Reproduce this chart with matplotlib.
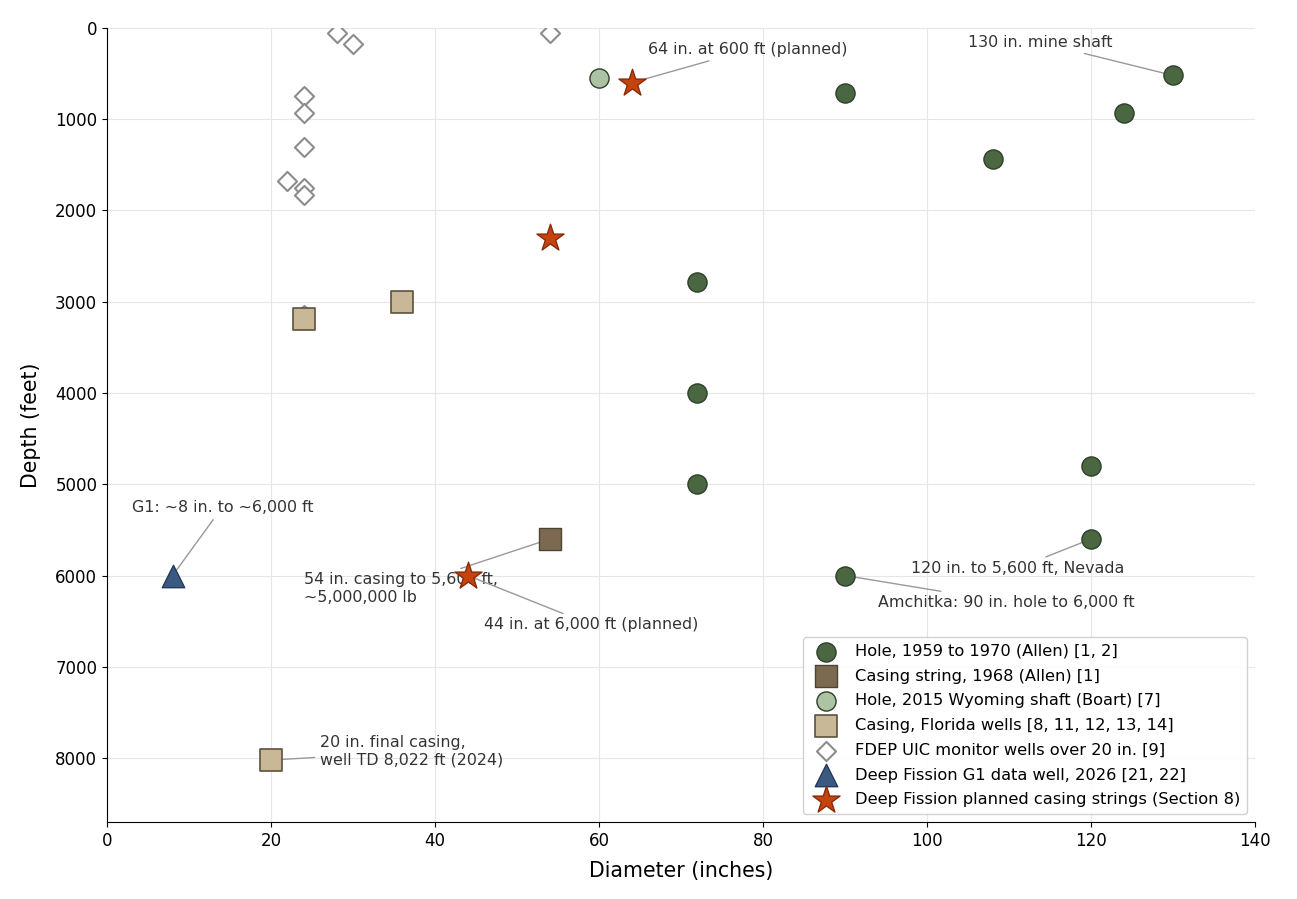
import matplotlib.pyplot as plt

# Holes drilled 1959-1970 (Allen)
hole_x = [90, 130, 124, 108, 72, 72, 72, 120, 120, 90]
hole_y = [710, 520, 930, 1440, 2780, 4000, 5000, 4800, 5600, 6000]

# Casing string 1968 (Allen)
casing_x = [54]
casing_y = [5600]

# Wyoming shaft 2015
wy_x = [60]
wy_y = [550]

# Florida wells casing
fl_x = [24, 36, 20]
fl_y = [3190, 3000, 8022]

# FDEP UIC monitor wells
fdep_x = [28, 30, 54, 24, 24, 24, 22, 24, 24, 24]
fdep_y = [50, 180, 50, 750, 930, 1300, 1680, 1750, 1830, 3150]

# Deep Fission G1
g1_x = [8]
g1_y = [6000]

# Deep Fission planned casing strings
df_x = [64, 54, 44]
df_y = [600, 2300, 6000]

fig = plt.figure(figsize=(12.97, 8.99), dpi=100)
ax = fig.add_axes([0.0825, 0.0857, 0.8851, 0.8832])

ax.scatter(fdep_x, fdep_y, s=95, marker='D', facecolor='white', edgecolor='#8c8c8c',
           linewidth=1.5, zorder=3, label='FDEP UIC monitor wells over 20 in. [9]')
ax.scatter(hole_x, hole_y, s=190, marker='o', color='#4a6741', edgecolor='#2e3f2a',
           linewidth=1, zorder=4, label='Hole, 1959 to 1970 (Allen) [1, 2]')
ax.scatter(casing_x, casing_y, s=250, marker='s', color='#7b6a50', edgecolor='#4f4433',
           linewidth=1, zorder=4, label='Casing string, 1968 (Allen) [1]')
ax.scatter(wy_x, wy_y, s=190, marker='o', color='#acc3a4', edgecolor='#2e3f2a',
           linewidth=1, zorder=4, label='Hole, 2015 Wyoming shaft (Boart) [7]')
ax.scatter(fl_x, fl_y, s=250, marker='s', color='#c8b898', edgecolor='#5e513e',
           linewidth=1.2, zorder=4, label='Casing, Florida wells [8, 11, 12, 13, 14]')
ax.scatter(g1_x, g1_y, s=260, marker='^', color='#3b5a82', edgecolor='#24395a',
           linewidth=1, zorder=4, label='Deep Fission G1 data well, 2026 [21, 22]')
ax.scatter(df_x, df_y, s=420, marker='*', color='#c4440f', edgecolor='#8a2a08',
           linewidth=1, zorder=5, label='Deep Fission planned casing strings (Section 8)')

ann = dict(fontsize=11.4, color='#333333', ha='left', va='center',
           arrowprops=dict(arrowstyle='-', color='#999999', lw=1))
ax.annotate('64 in. at 600 ft (planned)', xy=(64, 600), xytext=(66, 240), **ann)
ax.annotate('130 in. mine shaft', xy=(130, 520), xytext=(105, 160), **ann)
ax.annotate('G1: ~8 in. to ~6,000 ft', xy=(8, 6000), xytext=(3, 5250), **ann)
ax.annotate('54 in. casing to 5,600 ft,\n~5,000,000 lb', xy=(54, 5600), xytext=(24, 6140), **ann)
ax.annotate('44 in. at 6,000 ft (planned)', xy=(44, 6000), xytext=(46, 6540), **ann)
ax.annotate('120 in. to 5,600 ft, Nevada', xy=(120, 5600), xytext=(98, 5920), **ann)
ax.annotate('Amchitka: 90 in. hole to 6,000 ft', xy=(90, 6000), xytext=(94, 6290), **ann)
ax.annotate('20 in. final casing,\nwell TD 8,022 ft (2024)', xy=(20, 8022), xytext=(26, 7930), **ann)

ax.set_xlim(0, 140)
ax.set_ylim(8700, 0)
ax.set_xlabel('Diameter (inches)', fontsize=14.8, labelpad=8.5)
ax.set_ylabel('Depth (feet)', fontsize=14.8, labelpad=10)
ax.tick_params(labelsize=12)
ax.grid(True, color='#e6e6e6', linewidth=0.8)
ax.set_axisbelow(True)
ax.spines['top'].set_visible(False)
ax.spines['right'].set_visible(False)

handles, labels = ax.get_legend_handles_labels()
order = [1, 2, 3, 4, 0, 5, 6]
ax.legend([handles[i] for i in order], [labels[i] for i in order],
          loc='lower right', fontsize=11.7, framealpha=0.9, labelspacing=0.6)

fig.savefig('out.png', dpi=100)
